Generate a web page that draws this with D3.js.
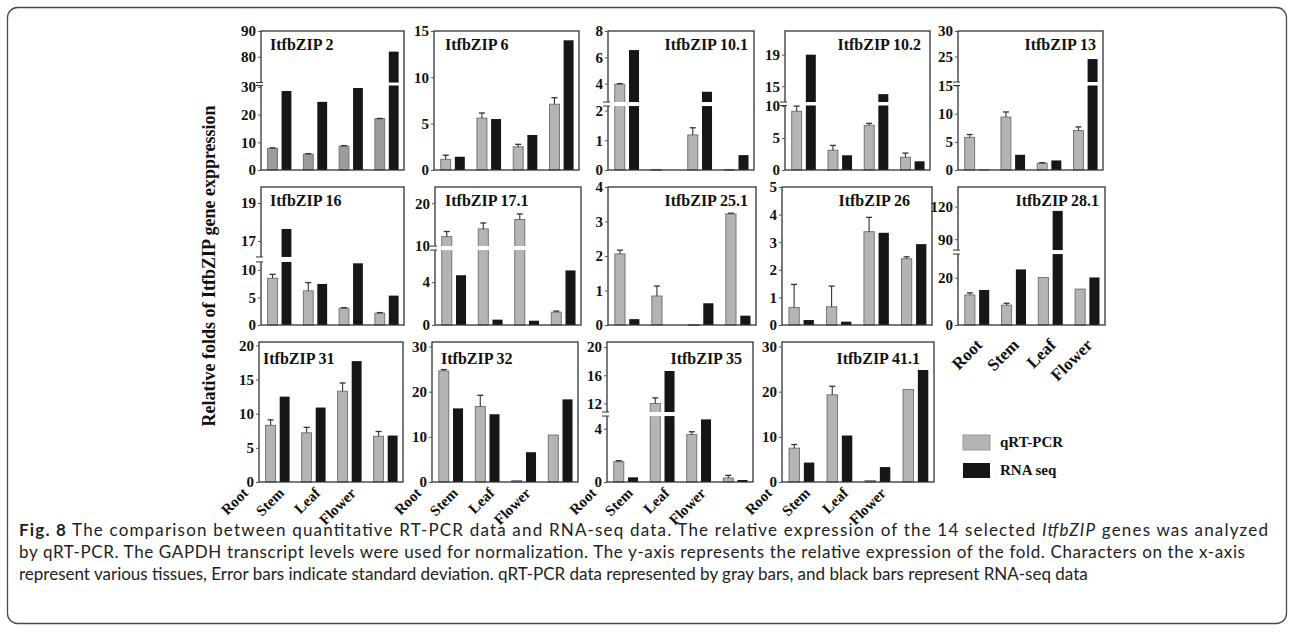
<!DOCTYPE html>
<html><head><meta charset="utf-8">
<script src="https://cdn.jsdelivr.net/npm/d3@7"></script>
<style>body{margin:0;background:#fff;} svg{display:block;}</style>
</head><body><svg id="chart" width="1290" height="632"></svg>
<script>
// ---------------- DATA ----------------
const genes = ["ItfbZIP 2","ItfbZIP 6","ItfbZIP 10.1","ItfbZIP 10.2","ItfbZIP 13",
  "ItfbZIP 16","ItfbZIP 17.1","ItfbZIP 25.1","ItfbZIP 26","ItfbZIP 28.1",
  "ItfbZIP 31","ItfbZIP 32","ItfbZIP 35","ItfbZIP 41.1"];
const tissues = ["Root","Stem","Leaf","Flower"];
const seriesNames = ["qRT-PCR","RNA seq"];
// qRT-PCR means (Root, Stem, Leaf, Flower)
const qrtPcr = [
  [7.8,5.7,8.6,18.5],[1.15,5.6,2.5,7.1],[3.95,0.02,1.18,0.02],[9.2,3.1,7.0,2.0],[5.8,9.4,1.2,7.0],
  [8.5,6.2,3.05,2.15],[12.2,14.0,16.2,1.2],[2.06,0.84,0.01,3.22],[0.63,0.66,3.38,2.4],[12.7,8.4,20.1,15.2],
  [8.3,7.2,13.3,6.7],[24.6,16.7,0.3,10.4],[1.52,12.0,3.57,0.3],[7.5,19.3,0.3,20.5]];
// qRT-PCR standard deviations
const qrtPcrSD = [
  [0.2,0.2,0.2,0.1],[0.45,0.55,0.27,0.7],[0.05,0,0.24,0],[0.8,0.75,0.3,0.65],[0.5,0.9,0.1,0.65],
  [0.7,1.5,0.1,0.1],[1.2,1.4,1.3,0.1],[0.11,0.29,0,0.02],[0.84,0.75,0.52,0.07],[0.9,0.8,0,0],
  [0.8,0.8,1.2,0.7],[0.3,2.5,0,0],[0.08,0.8,0.2,0.2],[0.8,1.9,0,0]];
// RNA-seq values
const rnaSeq = [
  [28.5,24.6,29.6,82],[1.43,5.5,3.78,14.0],[6.55,0,3.38,0.5],[19.0,2.3,14.0,1.36],[0.1,2.7,1.7,24.5],
  [17.63,7.45,11.2,5.33],[4.65,0.5,0.4,5.1],[0.17,0,0.63,0.27],[0.18,0.12,3.34,2.93],[14.8,23.5,116,20.1],
  [12.5,10.9,17.7,6.8],[16.3,15.0,6.6,18.3],[0.35,16.6,4.7,0.15],[4.3,10.3,3.3,24.8]];
// y-axis value breakpoints: [min,max] or [min, lowerMax, upperMin, max] for broken axes
const yDomains = [
  [0,30.5,70,90],[0,15],[0,2.15,2.6,8],[0,10.1,13,22],[0,15,20,30],
  [0,11.45,16.16,19.84],[0,7,10,23.8],[0,4],[0,5],[0,30,80,138],
  [0,20.5],[0,31],[0,4.95,10.8,20.7],[0,31]];
const yTicks = [
  [0,10,20,30,80,90],[0,5,10,15],[0,1,2,4,6,8],[0,5,10,15,19],[0,5,10,15,25,30],
  [0,5,10,17,19],[0,4,10,20],[0,1,2,3,4],[0,1,2,3,4,5],[0,20,90,120],
  [0,5,10,15,20],[0,10,20,30],[0,4,12,16,20],[0,10,20,30]];
const yTitle = "Relative folds of ItfbZIP gene exppression";
const captionLines = [
  [["Fig. 8","b"],[" The comparison between quantitative RT-PCR data and RNA-seq data. The relative expression of the 14 selected ",""],["ItfbZIP","i"],[" genes was analyzed",""]],
  [["by qRT-PCR. The GAPDH transcript levels were used for normalization. The y-axis represents the relative expression of the fold. Characters on the x-axis",""]],
  [["represent various tissues, Error bars indicate standard deviation. qRT-PCR data represented by gray bars, and black bars represent RNA-seq data",""]]
];

// ---------------- LAYOUT ----------------
const rows = [{top:31,bottom:170},{top:187,bottom:325},{top:342,bottom:482}];
const panelRow = [0,0,0,0,0,1,1,1,1,1,2,2,2,2];
const panelX = [[261,404],[434,579],[608,754],[785,930],[958,1103],
  [261,404],[435,581],[608,756],[782,932],[958,1105],
  [259,403],[432,578],[607,753],[782,934]];
const breakFrac = {0:[0.608,0.629],2:[0.46,0.489],3:[0.464,0.489],4:[0.608,0.633],
  5:[0.457,0.493],6:[0.543,0.572],9:[0.514,0.543],12:[0.471,0.5]};
const titleLeft = [1,1,0,0,0,1,1,0,0,0,1,1,0,0];
const titlePad = [9,11,6,9,7,9,10,8,22,6,4,9,11,14];
const titleDy = [19,19,22];
const xLabelPanels = {9:{dx:7,dy:21,fs:17},10:{dx:-28,dy:12,fs:15},11:{dx:-28,dy:12,fs:15},12:{dx:-28,dy:12,fs:15},13:{dx:-28,dy:12,fs:15}};
const capBase = [536,558,580];
const capWidths = [1249,1226,1118];
const SERIF = "'Liberation Serif','Times New Roman',serif";
const GRAY = "#b4b4b4", GRAY_DARK = "#9c9c9c", BLACK = "#161616";

const svg = d3.select("#chart");

// outer frame
svg.append("rect").attr("x",7.5).attr("y",7.5).attr("width",1279).attr("height",616)
  .attr("rx",10).attr("fill","none").attr("stroke","#4a4a4a").attr("stroke-width",1.3);

genes.forEach((g,i)=>{
  const r = rows[panelRow[i]];
  const [x0,x1] = panelX[i];
  const h = r.bottom - r.top;
  const dom = yDomains[i];
  let y;
  if (dom.length === 2) y = d3.scaleLinear().domain(dom).range([r.bottom, r.top]);
  else {
    const f = breakFrac[i];
    y = d3.scaleLinear().domain(dom).range([r.bottom, r.bottom - f[0]*h, r.bottom - f[1]*h, r.top]);
  }
  const xg = d3.scaleBand().domain(tissues).range([x0,x1]);
  const bw = xg.bandwidth();
  const xs = d3.scaleBand().domain(seriesNames).range([0.185*bw, 0.85*bw]).paddingInner(0.295);
  const gp = svg.append("g");
  const rowsData = tissues.map((t,k)=>({t, q:qrtPcr[i][k], sd:qrtPcrSD[i][k], r:rnaSeq[i][k]}));

  // bars
  rowsData.forEach(d=>{
    const gx = xg(d.t);
    const qy = y(d.q), ry = y(d.r);
    gp.append("rect").attr("x", gx + xs("qRT-PCR")).attr("width", xs.bandwidth())
      .attr("y", qy).attr("height", Math.max(0.8, r.bottom - qy))
      .attr("fill", i===0 ? GRAY_DARK : GRAY).attr("stroke","#6c6c6c").attr("stroke-width",0.9);
    if (d.r > 0) gp.append("rect").attr("x", gx + xs("RNA seq")).attr("width", xs.bandwidth())
      .attr("y", ry).attr("height", Math.max(0.8, r.bottom - ry)).attr("fill", BLACK);
  });
  // white break band across bars
  if (dom.length === 4) {
    const f = breakFrac[i];
    const gTop = r.bottom - f[1]*h, gBot = r.bottom - f[0]*h;
    rowsData.forEach(d=>{
      const gx = xg(d.t);
      [["qRT-PCR", d.q],["RNA seq", d.r]].forEach(([s,v])=>{
        if (v > dom[1]) gp.append("rect").attr("x", gx + xs(s) - 1).attr("width", xs.bandwidth() + 2)
          .attr("y", gTop).attr("height", gBot - gTop).attr("fill","#fff");
      });
    });
  }
  // error bars
  rowsData.forEach(d=>{
    if (d.sd <= 0) return;
    const cx = xg(d.t) + xs("qRT-PCR") + xs.bandwidth()/2;
    const yt = y(d.q + d.sd), yb = y(d.q);
    gp.append("line").attr("x1",cx).attr("x2",cx).attr("y1",yb).attr("y2",yt).attr("stroke","#333").attr("stroke-width",1.1);
    gp.append("line").attr("x1",cx-3).attr("x2",cx+3).attr("y1",yt).attr("y2",yt).attr("stroke","#333").attr("stroke-width",1.3);
  });

  // frame
  gp.append("rect").attr("x",x0).attr("y",r.top).attr("width",x1-x0).attr("height",h)
    .attr("fill","none").attr("stroke","#333").attr("stroke-width",1.3);

  // y axis
  const ax = gp.append("g").attr("transform",`translate(${x0},0)`)
    .call(d3.axisLeft(y).tickValues(yTicks[i]).tickSize(3).tickPadding(2).tickFormat(d3.format("d")));
  ax.select(".domain").remove();
  ax.selectAll(".tick line").attr("stroke","#555");
  ax.selectAll(".tick text").attr("font-family",SERIF).attr("font-weight","bold")
    .attr("font-size",15).attr("fill","#111");

  // axis break marks
  if (dom.length === 4) {
    const f = breakFrac[i];
    const gTop = r.bottom - f[1]*h, gBot = r.bottom - f[0]*h;
    gp.append("rect").attr("x",x0-5).attr("y",gTop).attr("width",8).attr("height",gBot-gTop).attr("fill","#fff");
    [gTop,gBot].forEach(yy=>gp.append("line").attr("x1",x0-5).attr("x2",x0+2).attr("y1",yy).attr("y2",yy)
      .attr("stroke","#333").attr("stroke-width",1));
  }

  // title
  gp.append("text").attr("x", titleLeft[i] ? x0 + titlePad[i] : x1 - titlePad[i])
    .attr("y", r.top + titleDy[panelRow[i]])
    .attr("text-anchor", titleLeft[i] ? "start" : "end")
    .attr("font-family",SERIF).attr("font-weight","bold").attr("font-size",16).attr("fill","#111").text(g);

  // x labels
  const xl = xLabelPanels[i];
  if (xl) {
    tissues.forEach(t=>{
      const cx = xg(t) + bw/2 + xl.dx, cy = r.bottom + xl.dy;
      gp.append("text").attr("transform",`translate(${cx},${cy}) rotate(-45)`).attr("text-anchor","end")
        .attr("font-family",SERIF).attr("font-weight","bold").attr("font-size",xl.fs).attr("fill","#111").text(t);
    });
  }
});

// y title
svg.append("text").attr("transform","translate(215,266) rotate(-90)").attr("text-anchor","middle")
  .attr("font-family",SERIF).attr("font-weight","bold").attr("font-size",18).attr("fill","#111").text(yTitle);

// legend
const legY = [435,463];
seriesNames.forEach((s,k)=>{
  svg.append("rect").attr("x",963).attr("y",legY[k]).attr("width",27).attr("height",15)
    .attr("fill", k===0 ? GRAY : BLACK).attr("stroke", k===0 ? "#999" : "none");
  svg.append("text").attr("x",1000).attr("y",legY[k]+12).attr("font-family",SERIF).attr("font-weight","bold")
    .attr("font-size",15).attr("fill","#111").text(s);
});

// caption: font size fitted so the last (unjustified) line has its width; first lines justified
const capG = svg.append("g").attr("font-family","Lato,'Open Sans',sans-serif").attr("fill","#222");
const capTexts = captionLines.map((line,li)=>{
  const t = capG.append("text").attr("x",19).attr("y",capBase[li]).attr("font-size",16);
  line.forEach(([s,st])=>{
    const ts = t.append("tspan").text(s);
    if (st==="b") ts.attr("font-weight","bold");
    if (st==="i") ts.attr("font-style","italic");
  });
  return t;
});
const w3 = capTexts[2].node().getComputedTextLength();
const capFs = Math.max(13, Math.min(17, 16 * capWidths[2] / w3));
capTexts.forEach((t,li)=>{
  t.attr("font-size",capFs);
  if (li < 2) t.attr("textLength",capWidths[li]).attr("lengthAdjust","spacing");
});
</script></body></html>
